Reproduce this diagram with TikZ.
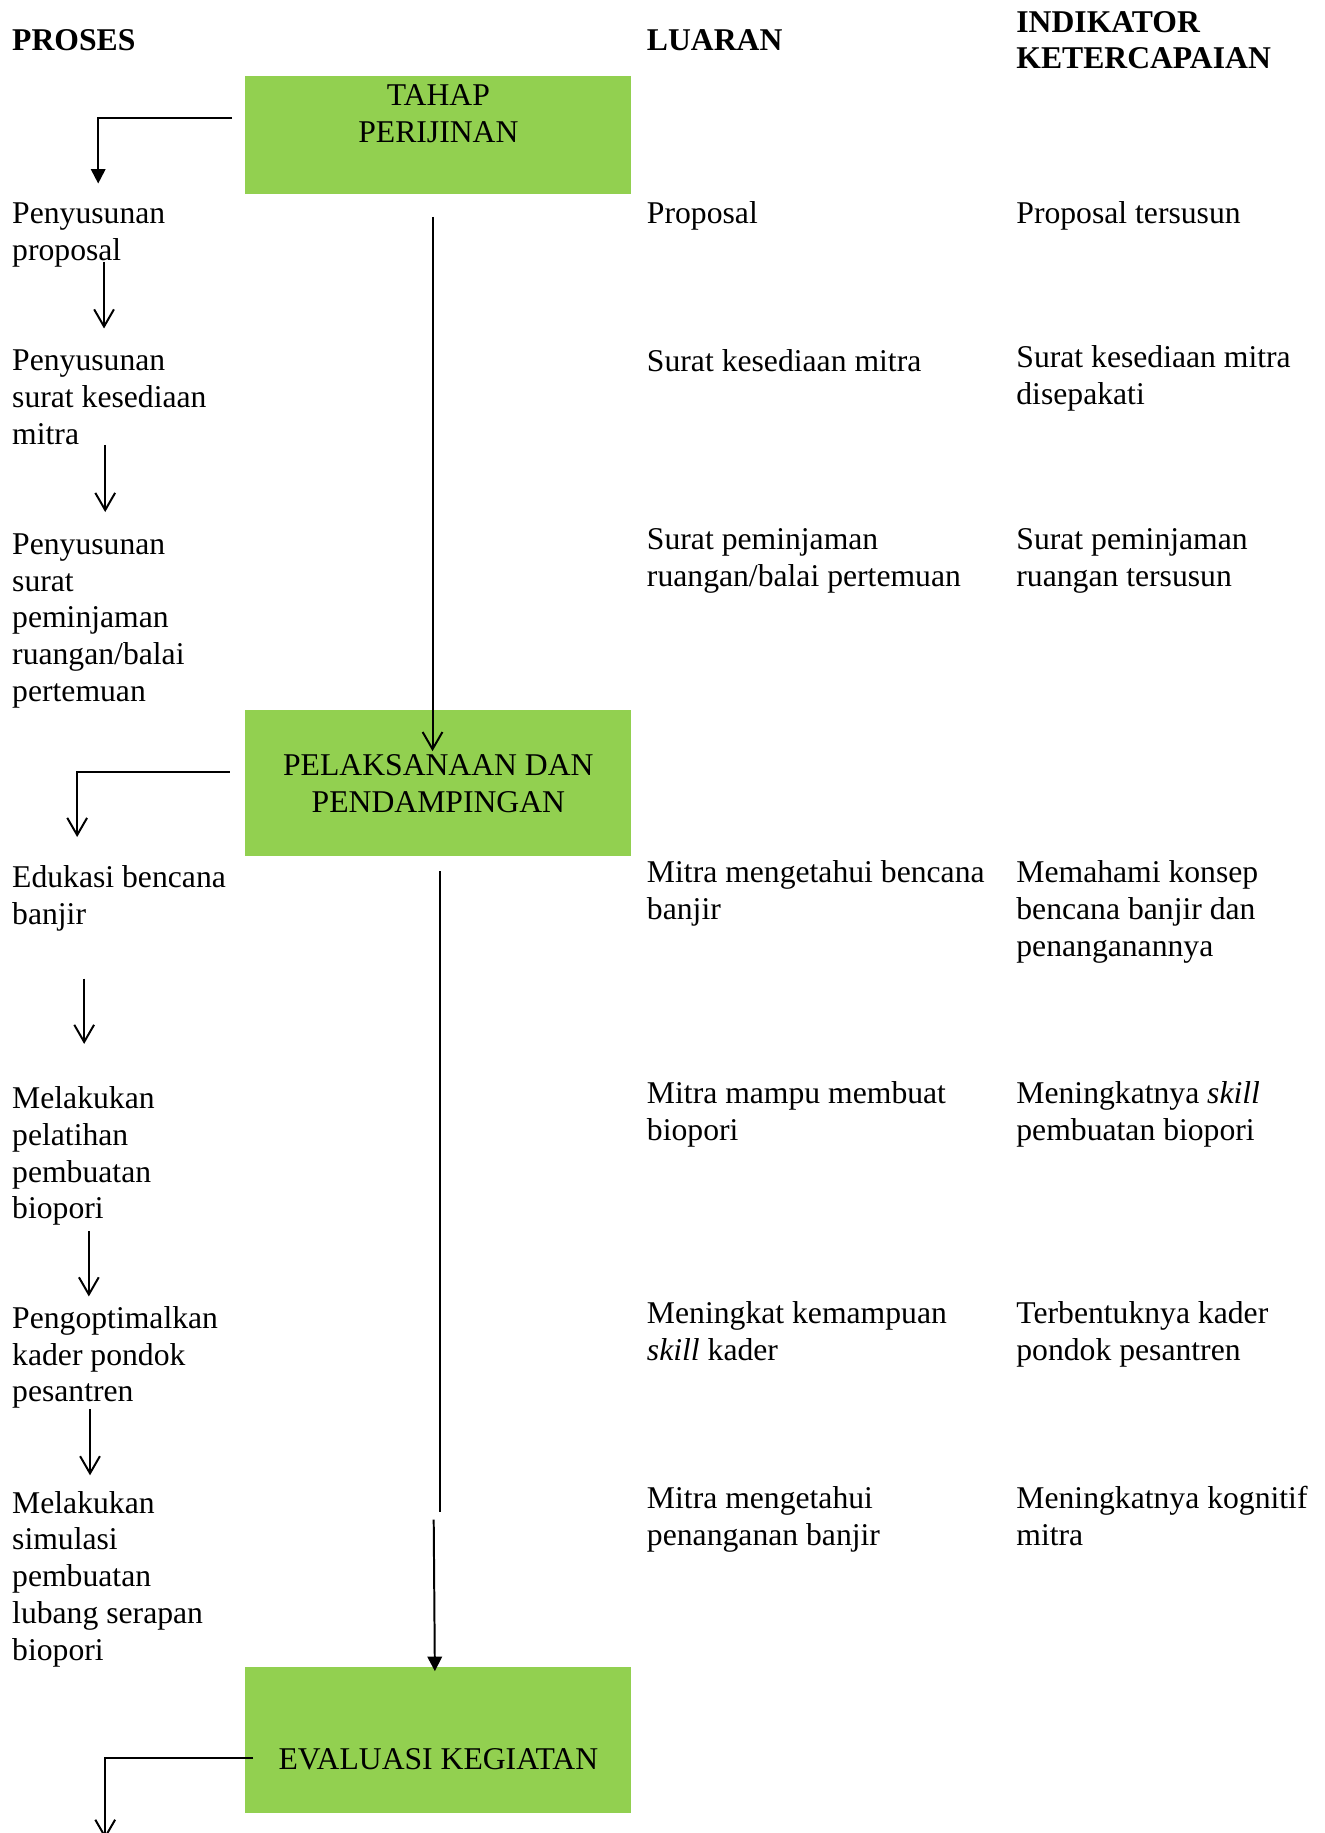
\documentclass[tikz,border=0pt]{standalone}
\usepackage{fontspec}
\setmainfont{Liberation Serif}
\usetikzlibrary{arrows.meta,calc}
\definecolor{stagegreen}{HTML}{92D050}

\begin{document}
\begin{tikzpicture}[
  x=0.443pt, y=-0.443pt,
  every node/.style={font=\fontsize{12pt}{13.95pt}\selectfont},
  txt/.style={anchor=north west, inner sep=0pt, align=left,
    execute at begin node=\strut, execute at end node=\strut},
  head/.style={txt, font=\fontsize{12pt}{13.95pt}\selectfont\bfseries},
  stage/.style={rectangle, fill=stagegreen, inner sep=0pt, minimum width=146.2pt},
  stagetxt/.style={anchor=north, inner sep=0pt, align=center,
    execute at begin node=\strut},
  flow/.style={-{Straight Barb[length=6.5pt,width=7.5pt]}, line width=0.75pt},
  flowfill/.style={-{Triangle[length=5.5pt,width=5.5pt]}, line width=0.75pt},
]
\useasboundingbox (0,0) rectangle (1133,1568);

% ========= Column headers =========
\node[head] at (10, 21) (hproses) {PROSES};
\node[head] at (553, 21) (hluaran) {LUARAN};
\node[head] at (869, 9) (hindik) {INDIKATOR\\KETERCAPAIAN};

% ========= Stages (green boxes) =========
\node[stage, minimum height=44.74pt] at (375, 115.5) (perijinan) {};
\node[stagetxt] at (375, 72) (perijinantxt) {TAHAP\\PERIJINAN};
\node[stage, minimum height=55.38pt] at (375, 669.5) (pelaksanaan) {};
\node[stagetxt] at (375, 645) (pelaksanaantxt) {PELAKSANAAN DAN\\PENDAMPINGAN};
\node[stage, minimum height=55.38pt] at (375, 1488.5) (evaluasi) {};
\node[stagetxt] at (375, 1491) (evaluasitxt) {EVALUASI KEGIATAN};

% ========= Proses (left column) =========
\node[txt] at (10, 173) (prop) {Penyusunan\\proposal};
\node[txt] at (10, 299) (sksd) {Penyusunan\\surat kesediaan\\mitra};
\node[txt] at (10, 456) (spjm) {Penyusunan\\surat\\peminjaman\\ruangan/balai\\pertemuan};
\node[txt] at (10, 740) (edu) {Edukasi bencana\\banjir};
\node[txt] at (10, 929) (latih) {Melakukan\\pelatihan\\pembuatan\\biopori};
\node[txt] at (10, 1117) (kader) {Pengoptimalkan\\kader pondok\\pesantren};
\node[txt] at (10, 1275) (simul) {Melakukan\\simulasi\\pembuatan\\lubang serapan\\biopori};

% ========= Luaran (middle column) =========
\node[txt] at (553, 169) (lprop) {Proposal};
\node[txt] at (553, 295) (lsksd) {Surat kesediaan mitra};
\node[txt] at (553, 452) (lspjm) {Surat peminjaman\\ruangan/balai pertemuan};
\node[txt] at (553, 736) (ledu) {Mitra mengetahui bencana\\banjir};
\node[txt] at (553, 925) (llatih) {Mitra mampu membuat\\biopori};
\node[txt] at (553, 1113) (lkader) {Meningkat kemampuan\\\textit{skill} kader};
\node[txt] at (553, 1271) (lsimul) {Mitra mengetahui\\penanganan banjir};

% ========= Indikator (right column) =========
\node[txt] at (869, 169) (iprop) {Proposal tersusun};
\node[txt] at (869, 295) (isksd) {Surat kesediaan mitra\\disepakati};
\node[txt] at (869, 452) (ispjm) {Surat peminjaman\\ruangan tersusun};
\node[txt] at (869, 736) (iedu) {Memahami konsep\\bencana banjir dan\\penanganannya};
\node[txt] at (869, 925) (ilatih) {Meningkatnya \textit{skill}\\pembuatan biopori};
\node[txt] at (869, 1113) (ikader) {Terbentuknya kader\\pondok pesantren};
\node[txt] at (869, 1271) (isimul) {Meningkatnya kognitif\\mitra};

% ========= Free ends =========
\coordinate (brk1) at (376, 1293);
\coordinate (brk2) at (371, 1300);
\coordinate (evalout) at (90, 1573);

% ========= Arrows: stage -> first step =========
\draw[flowfill] ($(perijinan.west)+(-11,-14.5)$) -| ($(prop.north west)+(74,-16)$);
\draw[flow] ($(pelaksanaan.west)+(-13,-9.5)$) -| ($(edu.north west)+(56,-24)$);
\draw[flow] ($(evaluasi.west)+(7,15.5)$) -| (evalout);

% ========= Arrows: step -> step =========
\draw[flow] ($(prop.south west)+(79,-8.5)$) -- ($(sksd.north west)+(79,-18)$);
\draw[flow] ($(sksd.south west)+(80,-9.5)$) -- ($(spjm.north west)+(80,-18)$);
\draw[flow] ($(edu.south west)+(62,36.5)$) -- ($(latih.north west)+(62,-36)$);
\draw[flow] ($(latih.south west)+(66,0.5)$) -- ($(kader.north west)+(66,-8)$);
\draw[flow] ($(kader.south west)+(67,-3.5)$) -- ($(simul.north west)+(67,-13)$);

% ========= Arrows: stage -> stage =========
\draw[flow] ($(perijinan.south)+(-5,19)$) -- ($(pelaksanaan.north)+(-5,36)$);
\draw[line width=0.75pt] ($(pelaksanaan.south)+(1,13)$) -- (brk1);
\draw[flowfill] (brk2) -- ($(evaluasi.north)+(-3,4)$);

\end{tikzpicture}
\end{document}
